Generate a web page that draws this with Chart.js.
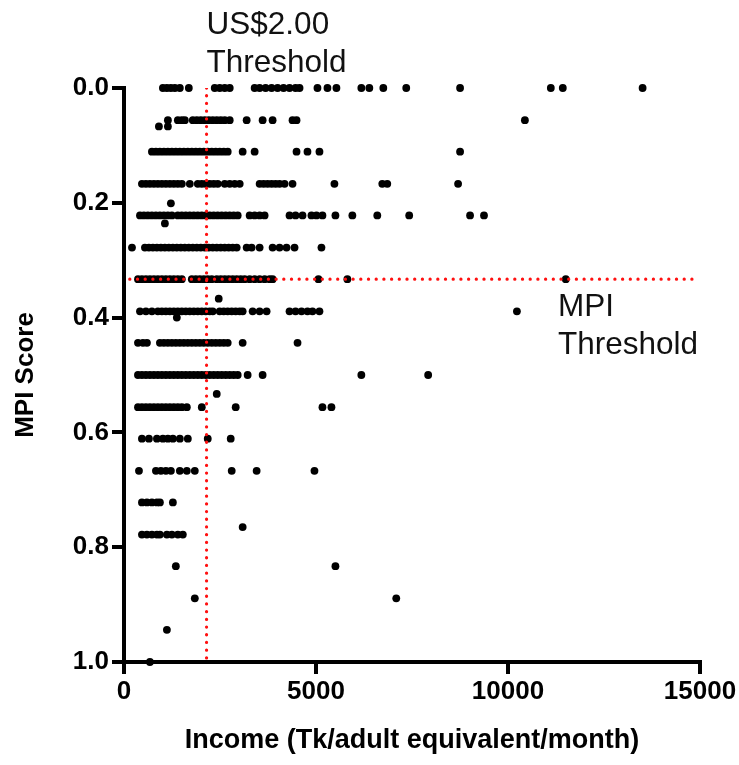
<!DOCTYPE html>
<html>
<head>
<meta charset="utf-8">
<script src="https://cdn.jsdelivr.net/npm/chart.js@4.4.0/dist/chart.umd.min.js"></script>
<style>
html, body { margin: 0; padding: 0; background: #fff; }
#wrap { width: 739px; height: 765px; }
</style>
</head>
<body>
<div id="wrap"><canvas id="mpiChart"></canvas></div>
<script>
// MPI score levels (rows of the scatter)
const mpiLevels = [0, 0.056, 0.111, 0.167, 0.222, 0.278, 0.333, 0.389, 0.444, 0.5,
                   0.556, 0.611, 0.667, 0.722, 0.778, 0.833, 0.889, 0.944, 1.0];

// household income (Tk/adult equivalent/month) at each MPI level
const inc000 = [1013, 1117, 1221, 1325, 1454, 1688, 2363, 2493, 2623, 2753, 3402, 3532, 3688, 3844,
                4000, 4155, 4311, 4467, 4571, 5038, 5298, 5532, 6181, 6389, 6753, 7350, 8752, 11115, 11427, 13505];
const inc056 = [1143, 1402, 1506, 1584, 1792, 1896, 2000, 2104, 2208, 2311, 2415, 2519, 2623, 2753,
                3194, 3610, 3870, 4389, 4493, 10440];
const inc111 = [727, 831, 935, 1039, 1143, 1247, 1350, 1454, 1558, 1662, 1766, 1870, 1974, 2078, 2181,
                2285, 2389, 2493, 2597, 2701, 3090, 3402, 4493, 4778, 5090, 8752];
const inc167 = [467, 571, 675, 779, 883, 987, 1091, 1195, 1298, 1402, 1506, 1714, 1922, 2026, 2130, 2233,
                2337, 2441, 2623, 2753, 2883, 3013, 3532, 3636, 3740, 3844, 3948, 4051, 4181, 4389,
                5480, 6726, 6856, 8700];
const inc222 = [416, 519, 623, 727, 831, 935, 1039, 1143, 1247, 1402, 1506, 1610, 1714, 1818, 1922, 2026,
                2130, 2233, 2337, 2441, 2545, 2649, 2753, 2857, 2961, 3272, 3402, 3532, 3662, 4311, 4467,
                4649, 4882, 5012, 5168, 5506, 5947, 6596, 7427, 9012, 9375];
const inc278 = [208, 545, 649, 753, 857, 961, 1065, 1169, 1273, 1376, 1480, 1584, 1688, 1792, 1896, 2000,
                2104, 2208, 2311, 2415, 2519, 2623, 2727, 2831, 2935, 3194, 3324, 3532, 3870, 4051, 4233,
                4441, 5142];
const inc333 = [364, 467, 571, 675, 779, 883, 987, 1091, 1195, 1298, 1402, 1506, 1766, 1870, 1974, 2078,
                2181, 2285, 2415, 2519, 2623, 2727, 2831, 2935, 3039, 3142, 3272, 3402, 3532, 3662, 3792,
                3870, 5064, 5817, 11505];
const inc389 = [416, 571, 727, 883, 987, 1091, 1195, 1298, 1402, 1506, 1610, 1714, 1818, 1922, 2026, 2130,
                2233, 2311, 2493, 2597, 2701, 2805, 2909, 3013, 3090, 3350, 3532, 3714, 4311, 4467, 4623,
                4778, 4908, 5090, 10232];
const inc444 = [364, 493, 597, 935, 1039, 1143, 1247, 1350, 1454, 1558, 1662, 1766, 1870, 1974, 2078, 2181,
                2285, 2389, 2493, 2597, 2701, 3090, 4519];
const inc500 = [364, 467, 571, 675, 779, 883, 987, 1091, 1195, 1298, 1402, 1506, 1610, 1714, 1818, 1922,
                2026, 2130, 2233, 2337, 2441, 2545, 2649, 2753, 2857, 2961, 3220, 3610, 6181, 7921];
const inc556 = [364, 467, 571, 675, 779, 883, 987, 1091, 1195, 1298, 1402, 1506, 1636, 2026, 2909, 5168, 5402];
const inc611 = [467, 649, 857, 1013, 1143, 1273, 1454, 1662, 2181, 2779];
const inc667 = [390, 831, 961, 1091, 1221, 1454, 1636, 1844, 2805, 3454, 4960];
const inc722 = [467, 597, 727, 857, 935, 1273];
const inc778 = [467, 597, 727, 857, 935, 1117, 1247, 1402, 1532];
const inc833 = [1350, 5506];
const inc889 = [1844, 7090];
const inc944 = [1117];
const inc1000 = [675];

// a few households off the regular MPI steps
const offIncome = [909, 1143, 1221, 1065, 2467, 1376, 2415, 3090];
const offScore = [0.067, 0.067, 0.201, 0.236, 0.367, 0.400, 0.533, 0.765];

// thresholds
const usdThreshold = 2150;
const mpiThreshold = 0.333;
const usdLabel = ['US$2.00', 'Threshold'];
const mpiLabel = ['MPI', 'Threshold'];

const incomeRows = [inc000, inc056, inc111, inc167, inc222, inc278, inc333, inc389, inc444, inc500,
                    inc556, inc611, inc667, inc722, inc778, inc833, inc889, inc944, inc1000];

const points = [];
mpiLevels.forEach((lvl, i) => {
    incomeRows[i].forEach(v => points.push({x: v, y: lvl}));
});
offIncome.forEach((v, i) => points.push({x: v, y: offScore[i]}));

const FONT = '"Liberation Sans", Arial, Helvetica, sans-serif';

const thresholdLabels = {
    id: 'thresholdLabels',
    afterDraw(chart) {
        const ctx = chart.ctx;
        const xs = chart.scales.x, ys = chart.scales.y;
        ctx.save();
        ctx.fillStyle = '#111';
        ctx.font = '31.5px ' + FONT;
        ctx.textAlign = 'left';
        ctx.textBaseline = 'alphabetic';
        const ux = xs.getPixelForValue(usdThreshold);
        ctx.fillText(usdLabel[0], ux, 34);
        ctx.fillText(usdLabel[1], ux, 72);
        const mx = xs.getPixelForValue(11300);
        const my = ys.getPixelForValue(0.398);
        ctx.fillText(mpiLabel[0], mx, my);
        ctx.fillText(mpiLabel[1], mx, my + 38);
        ctx.restore();
    }
};

const axisFont = {family: FONT, size: 26, weight: 'bold'};

const ctx = document.getElementById('mpiChart').getContext('2d');
const mpiChart = new Chart(ctx, {
    type: 'scatter',
    data: {
        datasets: [
            {
                type: 'line',
                data: [{x: usdThreshold, y: 0}, {x: usdThreshold, y: 1}],
                borderColor: '#ff1010',
                borderWidth: 3.2,
                borderDash: [0.1, 7.6],
                borderCapStyle: 'round',
                pointRadius: 0,
                order: 0
            },
            {
                type: 'line',
                data: [{x: 150, y: mpiThreshold}, {x: 14950, y: mpiThreshold}],
                borderColor: '#ff1010',
                borderWidth: 3.2,
                borderDash: [0.1, 7.6],
                borderCapStyle: 'round',
                pointRadius: 0,
                order: 0
            },
            {
                data: points,
                backgroundColor: '#000',
                borderColor: '#000',
                pointRadius: 3.9,
                borderWidth: 0,
                clip: false,
                order: 1
            }
        ]
    },
    options: {
        responsive: true,
        maintainAspectRatio: false,
        animation: false,
        layout: {padding: {top: 88, right: 39, left: 0, bottom: 0}},
        plugins: {
            legend: {display: false},
            tooltip: {enabled: false}
        },
        scales: {
            x: {
                type: 'linear',
                min: 0,
                max: 15000,
                ticks: {
                    stepSize: 5000,
                    color: '#000',
                    font: axisFont,
                    padding: 2,
                    maxRotation: 0,
                    callback: v => String(v)
                },
                grid: {drawOnChartArea: false, color: '#000', lineWidth: 4, tickLength: 12},
                border: {color: '#000', width: 4},
                title: {
                    display: true,
                    text: 'Income (Tk/adult equivalent/month)',
                    color: '#000',
                    font: {family: FONT, size: 27, weight: 'bold'},
                    padding: {top: 0, bottom: 8}
                },
                afterFit(s) { s.height = 103; }
            },
            y: {
                type: 'linear',
                reverse: true,
                min: 0,
                max: 1,
                ticks: {
                    stepSize: 0.2,
                    color: '#000',
                    font: axisFont,
                    padding: 3,
                    callback: v => v.toFixed(1)
                },
                grid: {drawOnChartArea: false, color: '#000', lineWidth: 4, tickLength: 12},
                border: {color: '#000', width: 4},
                title: {
                    display: true,
                    text: 'MPI Score',
                    color: '#000',
                    font: axisFont,
                    padding: {top: 10, bottom: 0}
                },
                afterFit(s) { s.width = 124; }
            }
        }
    },
    plugins: [thresholdLabels]
});
</script>
</body>
</html>
